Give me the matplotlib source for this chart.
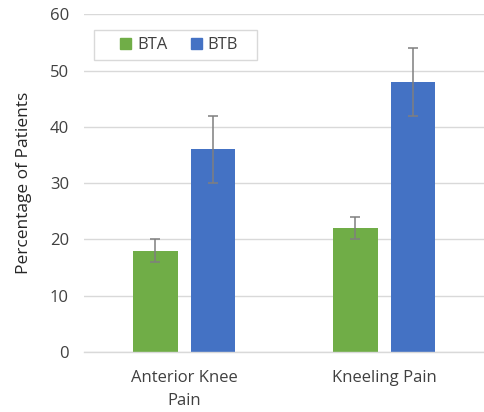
import matplotlib.pyplot as plt
import numpy as np
from matplotlib.patches import Patch, Rectangle

categories = ["Anterior Knee\nPain", "Kneeling Pain"]
series_names = ["BTA", "BTB"]
bta_values = [18, 22]
btb_values = [36, 48]
bta_errors = [2, 2]
btb_errors = [6, 6]
y_ticks = [0, 10, 20, 30, 40, 50, 60]

plt.rcParams["font.family"] = ["Open Sans", "DejaVu Sans"]

W, H = 484, 412
fig = plt.figure(figsize=(W / 100, H / 100), dpi=100)
ax = fig.add_axes([0.174, 0.146, 0.826, 0.819])

xs = np.arange(len(categories))
width = 0.223
offset = 0.144
colors = {"BTA": "#70AD47", "BTB": "#4472C4"}
err_kw = dict(ecolor="#7F7F7F", elinewidth=1.1, capsize=3.3, capthick=1.1)

ax.bar(xs - offset, bta_values, width, color=colors["BTA"], yerr=bta_errors, error_kw=err_kw, zorder=2)
ax.bar(xs + offset, btb_values, width, color=colors["BTB"], yerr=btb_errors, error_kw=err_kw, zorder=2)

ax.set_xlim(-0.5, 1.5)
ax.set_ylim(0, 60)
ax.set_yticks(y_ticks, [str(t) for t in y_ticks], fontsize=12, color="#404040")
ax.set_xticks(xs, categories, fontsize=12, color="#404040", linespacing=1.55)
ax.tick_params(axis="y", length=0, pad=11)
ax.tick_params(axis="x", length=0, pad=13)
ax.set_ylabel("Percentage of Patients", fontsize=12.5, color="#262626", labelpad=13)

ax.grid(axis="y", color="#D9D9D9", linewidth=1.0, zorder=0)
ax.set_axisbelow(True)
ax.spines[["top", "right", "left"]].set_visible(False)
ax.spines["bottom"].set_color("#D9D9D9")
ax.spines["bottom"].set_linewidth(1.0)

# legend frame drawn by hand so the padding can be uneven like the original
frame = Rectangle((94 / W, 1 - 60 / H), 163 / W, 30 / H, transform=fig.transFigure,
                  facecolor="white", edgecolor="#D9D9D9", linewidth=1.0, zorder=3)
fig.add_artist(frame)

handles = [Patch(color=colors[name], label=name) for name in series_names]
leg = fig.legend(
    handles=handles,
    loc="center",
    bbox_to_anchor=(179 / W, 1 - 45 / H),
    ncols=2,
    fontsize=12,
    frameon=False,
    handlelength=0.66,
    handleheight=0.66,
    handletextpad=0.36,
    columnspacing=1.4,
    borderpad=0.0,
    borderaxespad=0.0,
)
leg.set_zorder(4)
for text in leg.get_texts():
    text.set_color("#404040")

fig.savefig("out.png", dpi=100)
